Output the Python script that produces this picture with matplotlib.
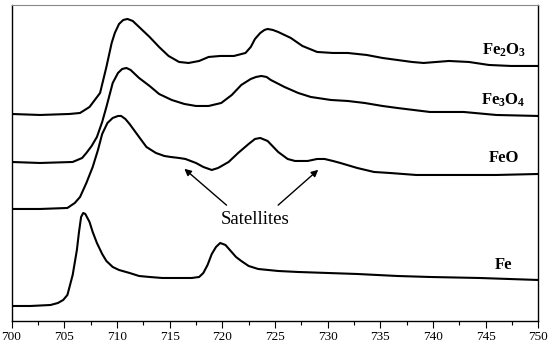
import matplotlib
matplotlib.use('Agg')
import matplotlib.pyplot as plt
from matplotlib.ticker import MultipleLocator

# Fe L-edge spectra, stacked (arbitrary intensity units)
e_fe2o3 = [700.0, 702.7, 705.5, 706.5, 707.4, 708.4, 709.0, 709.5, 709.8, 710.2,
           710.6, 711.0, 711.5, 712.1, 713.1, 714.0, 714.9, 715.9, 716.8, 717.8,
           718.7, 719.8, 721.1, 722.2, 722.7, 723.1, 723.6, 724.0, 724.3, 724.8,
           725.3, 726.5, 727.6, 729.0, 730.5, 731.9, 733.7, 735.2, 736.6, 738.0,
           739.1, 740.3, 741.5, 743.4, 745.3, 747.4, 750.0]
i_fe2o3 = [205, 204, 205, 206, 212, 226, 252, 276, 286, 295,
           299, 300, 298, 292, 282, 272, 263, 257, 256, 258,
           262, 263, 263, 266, 272, 280, 286, 289, 290, 289,
           287, 281, 273, 267, 266, 266, 264, 261, 259, 257,
           256, 257, 258, 257, 254, 253, 253]

e_fe3o4 = [700.0, 702.7, 705.8, 706.7, 707.1, 707.6, 708.1, 708.6, 709.0, 709.3,
           709.6, 710.1, 710.5, 710.9, 711.3, 712.1, 713.1, 714.0, 715.2, 716.4,
           717.5, 718.7, 719.9, 720.9, 721.8, 722.7, 723.2, 723.7, 724.2, 724.6,
           725.9, 727.2, 728.4, 730.3, 731.9, 733.5, 735.2, 736.6, 739.7, 742.9,
           746.0, 750.0]
i_fe3o4 = [157, 156, 157, 161, 166, 173, 182, 197, 212, 224,
           236, 246, 250, 251, 249, 241, 233, 225, 219, 215,
           213, 213, 216, 224, 234, 240, 242, 243, 242, 239,
           232, 226, 222, 219, 218, 216, 213, 211, 207, 207,
           204, 203]

e_feo = [700.0, 702.7, 705.3, 706.0, 706.5, 707.1, 707.7, 708.2, 708.6, 709.1,
         709.6, 710.1, 710.4, 710.8, 711.2, 712.1, 712.8, 713.7, 714.5, 715.1,
         715.9, 716.5, 717.5, 718.2, 719.0, 719.6, 720.6, 721.5, 722.5, 723.1,
         723.6, 724.3, 725.3, 726.2, 726.9, 728.1, 729.0, 729.7, 730.5, 731.2,
         732.8, 734.4, 735.9, 738.4, 742.2, 746.0, 750.0]
i_feo = [110, 110, 111, 116, 122, 136, 152, 169, 185, 196,
         201, 203, 203, 200, 195, 182, 172, 166, 163, 162,
         161, 160, 156, 152, 149, 151, 157, 166, 175, 180,
         181, 178, 167, 160, 158, 158, 160, 160, 158, 156,
         151, 147, 146, 144, 144, 144, 145]

e_fe = [700.0, 701.8, 703.7, 704.4, 704.9, 705.3, 705.5, 705.8, 706.2, 706.4,
        706.6, 706.8, 707.0, 707.4, 707.7, 708.1, 708.6, 709.0, 709.6, 710.2,
        711.2, 712.1, 713.1, 714.3, 715.9, 717.1, 717.8, 718.2, 718.6, 719.0,
        719.4, 719.8, 720.3, 720.8, 721.3, 721.8, 722.5, 723.4, 725.3, 727.2,
        730.0, 732.8, 736.6, 739.7, 744.4, 750.0]
i_fe = [13, 13, 14, 16, 19, 24, 32, 44, 69, 87,
        102, 106, 105, 97, 87, 76, 65, 58, 52, 49,
        46, 43, 42, 41, 41, 41, 42, 46, 54, 65,
        72, 76, 74, 68, 62, 58, 53, 50, 48, 47,
        46, 45, 43, 42, 41, 39]

labels = ['Fe$_2$O$_3$', 'Fe$_3$O$_4$', 'FeO', 'Fe']
label_y = [269, 219, 161, 54]

plt.rcParams['font.family'] = ['Liberation Serif', 'DejaVu Serif']
plt.rcParams['mathtext.fontset'] = 'custom'
plt.rcParams['mathtext.rm'] = 'Liberation Serif:bold'
plt.rcParams['mathtext.it'] = 'Liberation Serif:bold'

fig = plt.figure(figsize=(5.5, 3.45), dpi=100)
ax = fig.add_axes([0.021, 0.0696, 0.958, 0.916])

for e, i in [(e_fe2o3, i_fe2o3), (e_fe3o4, i_fe3o4), (e_feo, i_feo), (e_fe, i_fe)]:
    ax.plot(e, i, color='black', lw=1.5, solid_joinstyle='round', solid_capstyle='round')

for lab, y in zip(labels, label_y):
    ax.text(746.7, y, lab, ha='center', va='center', fontsize=12, fontweight='bold')

ax.text(723.1, 99, 'Satellites', ha='center', va='center', fontsize=13.5)
ax.annotate('', xy=(716.2, 152), xytext=(720.6, 112),
            arrowprops=dict(arrowstyle='-|>', color='black', lw=1.0, mutation_scale=10))
ax.annotate('', xy=(729.3, 151), xytext=(725.1, 112),
            arrowprops=dict(arrowstyle='-|>', color='black', lw=1.0, mutation_scale=10))

ax.set_xlim(700, 750)
ax.set_ylim(-2, 314)
ax.xaxis.set_major_locator(MultipleLocator(5))
ax.xaxis.set_minor_locator(MultipleLocator(2.5))
ax.tick_params(axis='x', which='major', direction='out', length=5, width=0.8, pad=2.5, labelsize=9.5)
ax.tick_params(axis='x', which='minor', direction='out', length=3, width=0.8)
ax.set_yticks([])
ax.spines['top'].set_color('#888888')
for s in ['left', 'right', 'bottom']:
    ax.spines[s].set_linewidth(1.0)

plt.savefig('out.png', dpi=100)
